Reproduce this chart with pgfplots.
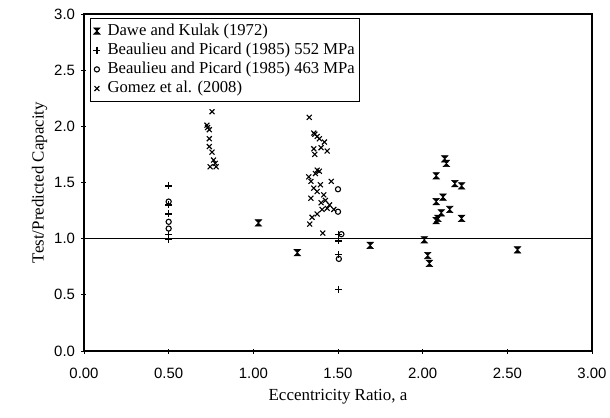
\documentclass[border=0pt]{standalone}
\usepackage{fontspec}
\setmainfont{Liberation Serif}
\newfontfamily\arialfont{Liberation Sans}
\usepackage{pgfplots}
\pgfplotsset{compat=1.18}
\pgfdeclareplotmark{hourglass}{%
  \pgfpathmoveto{\pgfqpoint{-\pgfplotmarksize}{\pgfplotmarksize}}%
  \pgfpathlineto{\pgfqpoint{\pgfplotmarksize}{\pgfplotmarksize}}%
  \pgfpathlineto{\pgfqpoint{-\pgfplotmarksize}{-\pgfplotmarksize}}%
  \pgfpathlineto{\pgfqpoint{\pgfplotmarksize}{-\pgfplotmarksize}}%
  \pgfpathclose
  \pgfusepathqfillstroke}
\begin{document}
\begin{tikzpicture}
\useasboundingbox (-84bp,-67bp) rectangle (526bp,351bp);
\begin{axis}[
  at={(0,0)}, anchor=south west,
  scale only axis, width=508bp, height=337bp,
  xmin=0, xmax=3, ymin=0, ymax=3,
  xtick={0,0.5,1,1.5,2,2.5,3},
  ytick={0,0.5,1,1.5,2,2.5,3},
  xtick pos=left, ytick pos=left,
  tick align=center,
  major tick length=5bp,
  tick style={black, line width=0.8bp},
  axis line style={black, line width=1.3bp},
  /pgf/number format/assume math mode=true,
  xticklabel style={font=\arialfont\fontsize{15}{16}\selectfont, yshift=-11bp, /pgf/number format/.cd, fixed, fixed zerofill, precision=2},
  yticklabel style={font=\arialfont\fontsize{15}{16}\selectfont, xshift=-3bp, /pgf/number format/.cd, fixed, fixed zerofill, precision=1},
  xlabel={Eccentricity Ratio, a},
  ylabel={Test/Predicted Capacity},
  xlabel style={yshift=-4bp},
  label style={font=\fontsize{17}{19}\selectfont},
  legend cell align=left,
  legend style={at={(axis description cs:0,1)}, anchor=north west, xshift=6bp, yshift=-4bp,
    draw=black, line width=0.8bp, font=\fontsize{16.7}{18}\selectfont,
    inner xsep=3bp, inner ysep=3bp,
    row sep=0pt, nodes={inner sep=1.2bp, text height=12.5bp, text depth=4.3bp},
    /tikz/every odd column/.append style={column sep=6bp}},
]
\addplot[black, line width=1.5bp, forget plot] coordinates {(0,1) (3,1)};
\addplot[only marks, mark=hourglass, mark size=3.2bp, mark options={black, fill=black, line width=0.6bp}] coordinates {
(1.03,1.14) (1.26,0.875) (1.69,0.94) (2.56,0.90) (2.01,0.99) (2.03,0.85) (2.04,0.78)
(2.13,1.71) (2.14,1.67) (2.08,1.56) (2.19,1.49) (2.23,1.47) (2.12,1.37) (2.08,1.33)
(2.16,1.26) (2.11,1.23) (2.09,1.18) (2.08,1.16) (2.23,1.18)
};
\addlegendentry{Dawe and Kulak (1972)}
\addplot[only marks, mark=+, mark size=3.5bp, mark options={black, line width=1.3bp}] coordinates {
(0.5,1.47) (0.5,1.30) (0.5,1.22) (0.5,1.04) (0.5,0.99)
(1.505,1.04) (1.505,0.98) (1.505,0.86) (1.505,0.55)
};
\addlegendentry{Beaulieu and Picard (1985) 552 MPa}
\addplot[only marks, mark=o, mark size=2.6bp, mark options={black, line width=1.1bp}] coordinates {
(0.5,1.33) (0.5,1.15) (0.5,1.09) (1.50,1.44) (1.50,1.24) (1.52,1.04) (1.505,0.82)
};
\addlegendentry{Beaulieu and Picard (1985) 463 MPa}
\addplot[only marks, mark=x, mark size=3.5bp, mark options={black, line width=1.1bp}] coordinates {
(0.756,2.13) (0.726,2.01) (0.74,1.97) (0.74,1.89) (0.74,1.82) (0.756,1.77) (0.765,1.70)
(0.775,1.67) (0.745,1.64) (0.78,1.64) (0.73,1.99)
(1.33,2.08) (1.357,1.94) (1.363,1.93) (1.377,1.91) (1.39,1.89) (1.42,1.86) (1.357,1.80)
(1.40,1.81) (1.436,1.78) (1.363,1.75) (1.377,1.61) (1.39,1.60) (1.367,1.58) (1.327,1.55)
(1.46,1.51) (1.34,1.51) (1.396,1.48) (1.357,1.45) (1.377,1.42) (1.416,1.39) (1.34,1.36)
(1.426,1.34) (1.40,1.32) (1.45,1.30) (1.436,1.27) (1.406,1.26) (1.475,1.26) (1.377,1.22)
(1.347,1.19) (1.333,1.13) (1.41,1.05)
};
\addlegendentry{Gomez et al. (2008)}
\end{axis}
\end{tikzpicture}
\end{document}
